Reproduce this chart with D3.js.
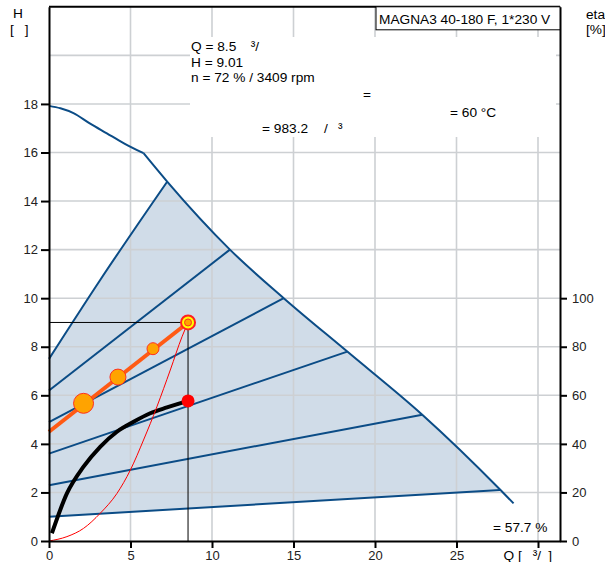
<!DOCTYPE html>
<html>
<head>
<meta charset="utf-8">
<script src="https://cdn.jsdelivr.net/npm/d3@7"></script>
<style>
  body { margin: 0; background: #fff; }
  svg { display: block; font-family: "Liberation Sans", Arial, sans-serif; }
  .grid line { stroke: #cdd0d3; stroke-width: 1.6; }
  .axis path, .axis line { stroke: #000; stroke-width: 2; }
  .axis text { font-size: 13px; fill: #222; }
  .lbl { font-size: 13.7px; fill: #000; }
</style>
</head>
<body>
<svg id="chart" width="605" height="562"></svg>
<script>
'use strict';

// max curve of the pump, Q [m3/h] / H [m]
var maxCurve = [
  [0, 17.92], [0.7, 17.82], [1.5, 17.62], [2.5, 17.2], [3.55, 16.79], [4.6, 16.38],
  [5.8, 15.97], [7.25, 14.8], [11.1, 12.0], [14.4, 10.0], [18.3, 7.8], [22.9, 5.2],
  [27.7, 2.1], [28.5, 1.55]
];

// constant speed lines, from left axis to max curve
var speedLines = [
  [[0, 7.5], [3.14, 10.75], [7.25, 14.8]],
  [[0, 6.2], [11.1, 12.0]],
  [[0, 4.9], [14.4, 10.0]],
  [[0, 3.6], [18.3, 7.8]],
  [[0, 2.3], [22.9, 5.2]],
  [[0, 1.0], [27.7, 2.1]]
];

var systemCurve = [
  [0, 0], [1.1, 0.18], [2.12, 0.52], [3.14, 1.14], [4.17, 1.96], [4.99, 2.92],
  [5.8, 4.16], [6.62, 5.53], [7.44, 7.04], [8.16, 8.41], [8.53, 9.0]
];

// eta [%]
var etaCurve = [
  [0.18, 3.2], [1.1, 19.6], [2.12, 30.6], [3.14, 38.8], [4.17, 45.0],
  [5.19, 49.1], [6.21, 52.6], [7.24, 55.0], [8.53, 57.7]
];

var controlLine = [[0, 4.5], [8.53, 9.0]];
var controlPoints = [[2.12, 5.67], [4.23, 6.75], [6.38, 7.92]];
var duty = {q: 8.53, h: 9.0, eta: 57.7};

var hTicks = [0, 2, 4, 6, 8, 10, 12, 14, 16, 18];
var hGrid = [2, 4, 6, 8, 10, 12, 14, 16, 18, 20];
var qTicks = [0, 5, 10, 15, 20, 25, 30];
var etaTicks = [0, 20, 40, 60, 80, 100];

// glyphs that do not show in the original are kept as gaps
var infoLines = [
  [['Q = 8.5', 0], ['\u00b3/', 14.5]],
  [['H = 9.01', 0]],
  [['n = 72 % / 3409 rpm', 0]]
];

var svg = d3.select('#chart');
var L = 49, R = 560, T = 6.8, B = 541;

var x = d3.scaleLinear().domain([0, 31.35]).range([L, R]);
var y = d3.scaleLinear().domain([0, 22]).range([B, T]);
var yEta = d3.scaleLinear().domain([0, 220]).range([B, T]);

var line = d3.line()
  .x(function (d) { return x(d[0]); })
  .y(function (d) { return y(d[1]); });
var smooth = d3.line().curve(d3.curveMonotoneX)
  .x(function (d) { return x(d[0]); })
  .y(function (d) { return y(d[1]); });
var etaLine = d3.line().curve(d3.curveMonotoneX)
  .x(function (d) { return x(d[0]); })
  .y(function (d) { return yEta(d[1]); });

// shaded operating area
var first = speedLines[0], last = speedLines[speedLines.length - 1];
var area = first.concat(maxCurve.filter(function (d) {
  return d[0] > first[first.length - 1][0] && d[0] <= last[last.length - 1][0];
})).concat(last.slice().reverse());
svg.append('path')
  .attr('d', line(area) + 'Z')
  .attr('fill', '#d0dce8');

// grid
var grid = svg.append('g').attr('class', 'grid');
grid.selectAll('.gx').data(qTicks.slice(1)).enter().append('line')
  .attr('x1', x).attr('x2', x).attr('y1', T).attr('y2', B);
grid.selectAll('.gy').data(hGrid).enter().append('line')
  .attr('x1', L).attr('x2', R).attr('y1', y).attr('y2', y);

// white background behind the info text
svg.append('rect')
  .attr('x', 190).attr('y', 37).attr('width', 366).attr('height', 100)
  .attr('fill', '#fff');

// speed lines and max curve
svg.selectAll('.speed').data(speedLines).enter().append('path')
  .attr('d', smooth)
  .attr('fill', 'none').attr('stroke', '#0b4c86').attr('stroke-width', 2);
svg.append('path')
  .attr('d', smooth(maxCurve.slice(0, 7)))
  .attr('fill', 'none').attr('stroke', '#0b4c86').attr('stroke-width', 2);
svg.append('path')
  .attr('d', smooth(maxCurve.slice(6)))
  .attr('fill', 'none').attr('stroke', '#0b4c86').attr('stroke-width', 2);

// duty point guide lines
svg.append('path')
  .attr('d', line([[0, duty.h], [duty.q, duty.h], [duty.q, 0]]))
  .attr('fill', 'none').attr('stroke', '#000').attr('stroke-width', 1);

// efficiency
svg.append('path')
  .attr('d', etaLine(etaCurve))
  .attr('fill', 'none').attr('stroke', '#000').attr('stroke-width', 4);
svg.append('circle')
  .attr('cx', x(duty.q)).attr('cy', yEta(duty.eta)).attr('r', 6.5)
  .attr('fill', '#ff0000');

// system curve
svg.append('path')
  .attr('d', smooth(systemCurve))
  .attr('fill', 'none').attr('stroke', '#ff0000').attr('stroke-width', 1);

// control curve
svg.append('path')
  .attr('d', line(controlLine))
  .attr('fill', 'none').attr('stroke', '#ff5a14').attr('stroke-width', 4);
svg.selectAll('.cp').data(controlPoints).enter().append('circle')
  .attr('cx', function (d) { return x(d[0]); })
  .attr('cy', function (d) { return y(d[1]); })
  .attr('r', function (d, i) { return 10 - 2 * i; })
  .attr('fill', '#ffa300').attr('stroke', '#ff3020').attr('stroke-width', 1);
svg.append('circle')
  .attr('cx', x(duty.q)).attr('cy', y(duty.h)).attr('r', 7)
  .attr('fill', '#ffff00').attr('stroke', '#ff2020').attr('stroke-width', 2);
svg.append('circle')
  .attr('cx', x(duty.q)).attr('cy', y(duty.h)).attr('r', 3.5)
  .attr('fill', '#ffa300').attr('stroke', '#ff3020').attr('stroke-width', 1);

// axes
svg.append('g').attr('class', 'axis')
  .attr('transform', 'translate(' + L + ',0)')
  .call(d3.axisLeft(y).tickValues(hTicks).tickSize(8).tickSizeOuter(0).tickPadding(3));
svg.append('g').attr('class', 'axis')
  .attr('transform', 'translate(' + R + ',0)')
  .call(d3.axisRight(yEta).tickValues(etaTicks).tickSize(7).tickSizeOuter(0).tickPadding(5));
var xAxis = svg.append('g').attr('class', 'axis')
  .attr('transform', 'translate(0,' + B + ')')
  .call(d3.axisBottom(x).tickValues(qTicks).tickSize(7).tickSizeOuter(0).tickPadding(2)
    .tickFormat(function (d) { return d === 30 ? '' : d; }));
xAxis.selectAll('text').attr('dy', '0.8em');
svg.append('line')
  .attr('x1', L).attr('x2', R).attr('y1', T).attr('y2', T)
  .attr('stroke', '#000').attr('stroke-width', 2);

// title box
svg.append('rect')
  .attr('x', 376).attr('y', T).attr('width', R - 376).attr('height', 23)
  .attr('fill', '#fff').attr('stroke', '#000').attr('stroke-width', 1);
svg.append('text').attr('class', 'lbl')
  .attr('x', 379).attr('y', 24).text('MAGNA3 40-180 F, 1*230 V');

function label(px, py, parts, anchor) {
  var t = svg.append('text').attr('class', 'lbl')
    .attr('x', px).attr('y', py).attr('text-anchor', anchor || 'start');
  t.selectAll('tspan').data(parts).enter().append('tspan')
    .attr('dx', function (d) { return d[1]; })
    .text(function (d) { return d[0]; });
  return t;
}

// axis titles
label(13, 18, [['H', 0]]);
label(10, 34, [['[', 0], [']', 11]]);
label(586, 19, [['eta', 0]]);
label(586, 34, [['[%]', 0]]);
label(552, 560, [['Q [', 0], ['\u00b3/', 11], [']', 7]], 'end');

// info texts
infoLines.forEach(function (parts, i) {
  label(191, 51 + i * 15.5, parts);
});
label(363, 99, [['=', 0]]);
label(450, 117, [['= 60 \u00b0C', 0]]);
label(262, 133, [['= 983.2', 0], ['/', 16], ['\u00b3', 10]]);
label(493, 532, [['= ' + duty.eta + ' %', 0]]);
</script>
</body>
</html>
